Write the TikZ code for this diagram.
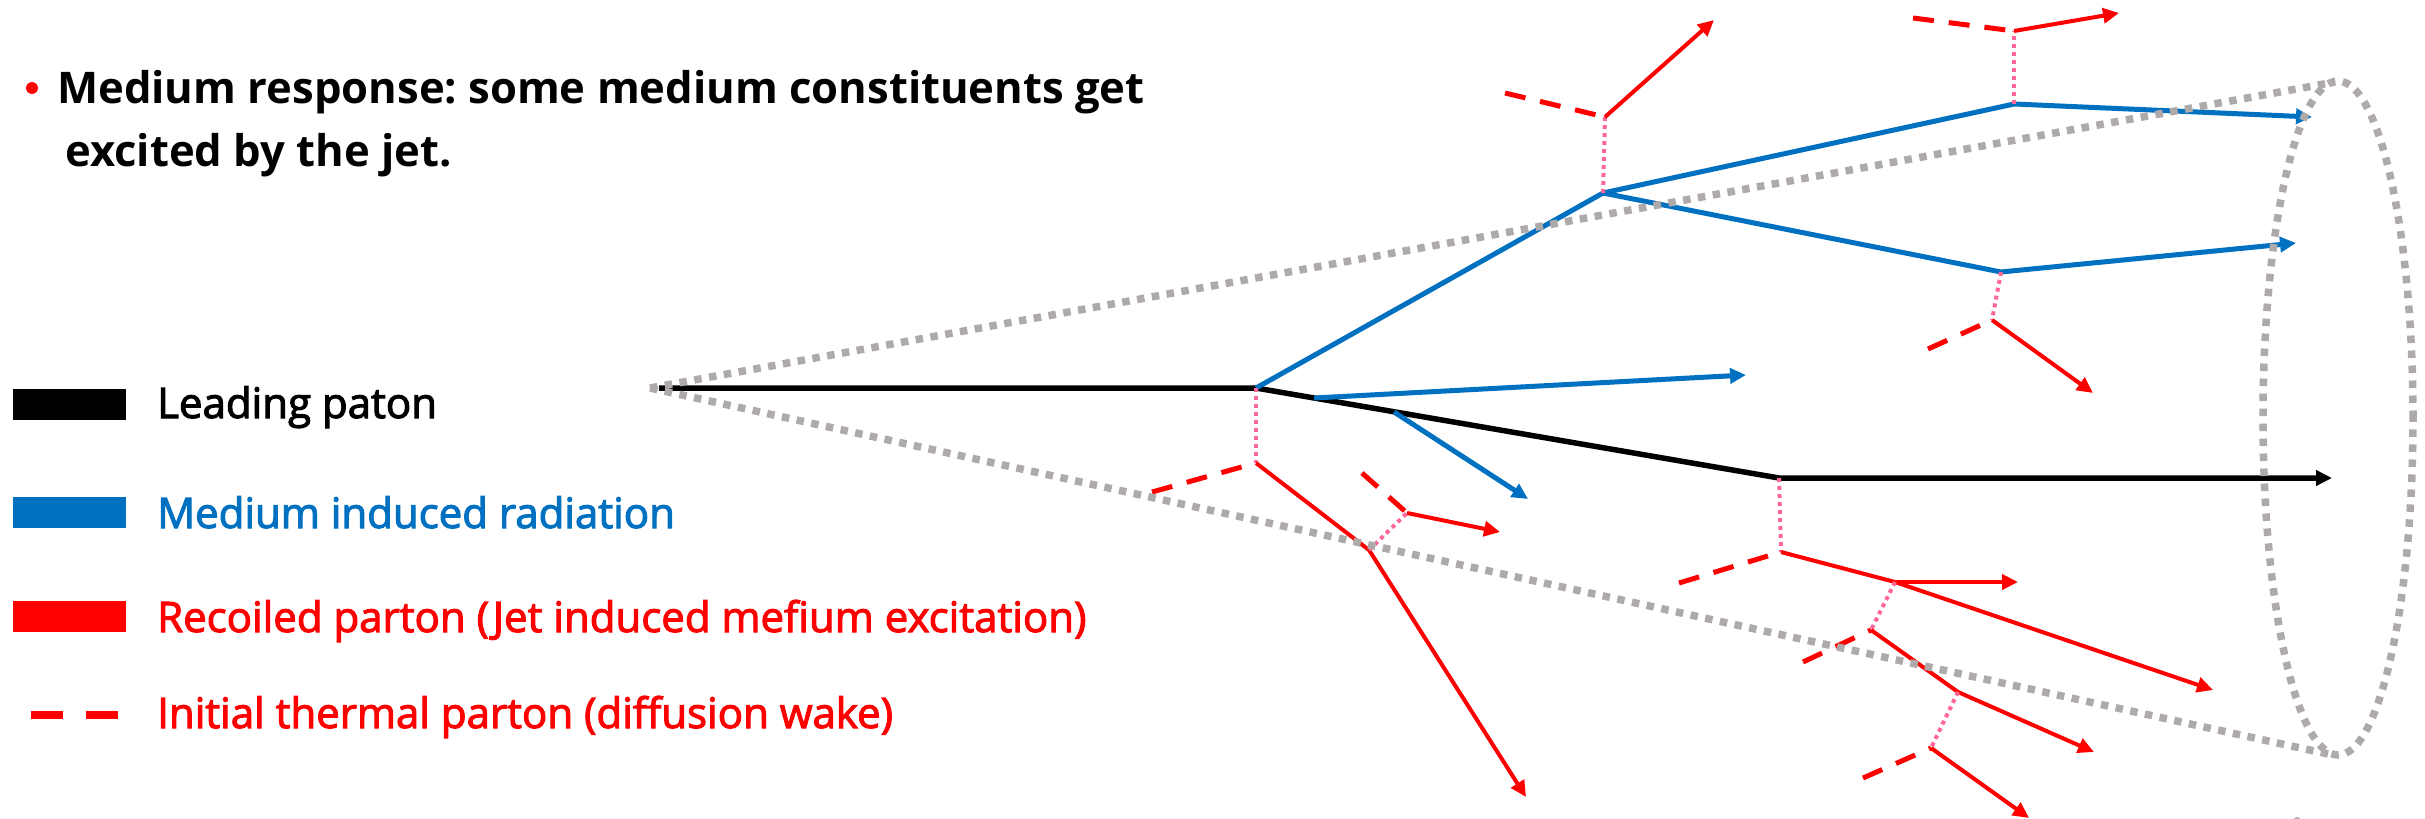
\documentclass[tikz,border=0pt]{standalone}
\usepackage{fontspec}
\setmainfont{Open Sans}
\newfontfamily\legfont{Open Sans}[FakeBold=2.5]
\usetikzlibrary{arrows.meta}
\definecolor{jblue}{RGB}{0,112,192}
\definecolor{jred}{RGB}{255,0,0}
\definecolor{jpink}{RGB}{255,102,153}
\definecolor{jgray}{RGB}{174,170,170}
\frenchspacing
\begin{document}
\begin{tikzpicture}[x=1pt,y=-1pt,
  lead/.style={line width=5.5pt,draw=black,line join=round},
  rad/.style={line width=5pt,draw=jblue,line join=round},
  rec/.style={line width=4pt,draw=jred,line join=round},
  therm/.style={line width=5pt,draw=jred,dash pattern=on 21pt off 15pt},
  link/.style={line width=4pt,draw=jpink,dash pattern=on 4pt off 4pt},
  cone/.style={line width=7.5pt,draw=jgray,dash pattern=on 7.5pt off 7.5pt},
  tip/.style={-{Triangle[length=16pt,width=15pt]}},
  legtext/.style={anchor=base west,inner sep=0pt,font=\legfont\fontsize{42}{49}\selectfont},
  legbox/.style={anchor=north west,inner sep=0pt,minimum width=113pt,minimum height=31pt},
  titletext/.style={anchor=base west,inner sep=0pt,font=\bfseries\fontsize{43.6}{63}\selectfont},
]
\useasboundingbox (0,0) rectangle (2425,819);

% title
\node[circle,fill=jred,minimum size=12pt,inner sep=0pt] (bul) at (32,88) {};
\node[titletext] (t1) at (57,103) {Medium response: some medium constituents get};
\node[titletext] (t2) at (65,166) {excited by the jet.};

% legend
\node[legbox,fill=black] (k1) at (13,389) {};
\node[legbox,fill=jblue] (k2) at (13,497) {};
\node[legbox,fill=jred] (k3) at (13,601) {};
\coordinate (k4a) at (31,715);
\coordinate (k4b) at (119,715);
\draw[jred,line width=8pt,dash pattern=on 32pt off 23pt] (k4a) -- (k4b);
\node[legtext] (l1) at (157,418) {Leading paton};
\node[legtext,text=jblue] (l2) at (157,528) {Medium induced radiation};
\node[legtext,text=jred] (l3) at (157,632) {Recoiled parton (Jet induced mefium excitation)};
\node[legtext,text=jred] (l4) at (157,728) {Initial thermal parton (diffusion wake)};

% points
\coordinate (A) at (659,388);
\coordinate (Ag) at (650,388);
\coordinate (V1) at (1256,388);
\coordinate (V2) at (1779,478);
\coordinate (Le) at (2332,478);
\coordinate (S1) at (1314,398);
\coordinate (S1e) at (1746,375);
\coordinate (S2) at (1394,412);
\coordinate (S2e) at (1528,499);
\coordinate (B1) at (1603,193);
\coordinate (B2) at (2014,104);
\coordinate (B2e) at (2312,117);
\coordinate (B3) at (2001,272);
\coordinate (B3e) at (2296,243);

\coordinate (R1) at (1256,463);
\coordinate (T1) at (1152,492);
\coordinate (R1b) at (1369,550);
\coordinate (R1e) at (1526,797);
\coordinate (P1) at (1407,513);
\coordinate (T2) at (1362,473);
\coordinate (P1e) at (1500,532);

\coordinate (R3) at (1605,117);
\coordinate (T3) at (1505,93);
\coordinate (R3e) at (1714,20);

\coordinate (R4) at (2014,31);
\coordinate (T4) at (1913,18);
\coordinate (R4e) at (2119,13);

\coordinate (R5) at (1992,320);
\coordinate (T5) at (1928,349);
\coordinate (R5e) at (2093,393);

\coordinate (R2) at (1781,552);
\coordinate (T6) at (1679,583);
\coordinate (R2b) at (1895,582);
\coordinate (R2e) at (2213,690);
\coordinate (R2h) at (2018,582);
\coordinate (P2) at (1871,630);
\coordinate (T7) at (1803,662);
\coordinate (R6) at (1958,692);
\coordinate (R6e) at (2094,752);
\coordinate (P3) at (1931,748);
\coordinate (T8) at (1863,778);
\coordinate (P3e) at (2029,818);

\coordinate (G1) at (2335,82);
\coordinate (G2) at (2328,754);
\coordinate (E) at (2338,418);

% leading parton and radiation
\draw[lead,tip] (A) -- (V1) -- (V2) -- (Le);
\draw[rad,tip] (V1) -- (B1) -- (B2) -- (B2e);
\draw[rad,tip] (B1) -- (B3) -- (B3e);
\draw[rad,tip] (S1) -- (S1e);
\draw[rad,tip] (S2) -- (S2e);

% recoils
\draw[link] (V1) -- (R1);
\draw[therm] (T1) -- (R1);
\draw[rec,tip] (R1) -- (R1b) -- (R1e);
\draw[link] (R1b) -- (P1);
\draw[therm] (T2) -- (P1);
\draw[rec,tip] (P1) -- (P1e);

\draw[link] (B1) -- (R3);
\draw[therm] (T3) -- (R3);
\draw[rec,tip] (R3) -- (R3e);

\draw[link] (B2) -- (R4);
\draw[therm] (T4) -- (R4);
\draw[rec,tip] (R4) -- (R4e);

\draw[link] (B3) -- (R5);
\draw[therm] (T5) -- (R5);
\draw[rec,tip] (R5) -- (R5e);

\draw[link] (V2) -- (R2);
\draw[therm] (T6) -- (R2);
\draw[rec,tip] (R2) -- (R2b) -- (R2e);
\draw[rec,tip] (R2b) -- (R2h);
\draw[link] (R2b) -- (P2);
\draw[therm] (T7) -- (P2);
\draw[rec,tip] (P2) -- (R6) -- (R6e);
\draw[link] (R6) -- (P3);
\draw[therm] (T8) -- (P3);
\draw[rec,tip] (P3) -- (P3e);

% cone
\draw[cone] (Ag) -- (G1);
\draw[cone] (Ag) -- (G2);
\draw[cone] (E) ellipse[x radius=75pt,y radius=337pt];
\fill[jgray] (2297,821) circle[radius=4pt];
\end{tikzpicture}
\end{document}
